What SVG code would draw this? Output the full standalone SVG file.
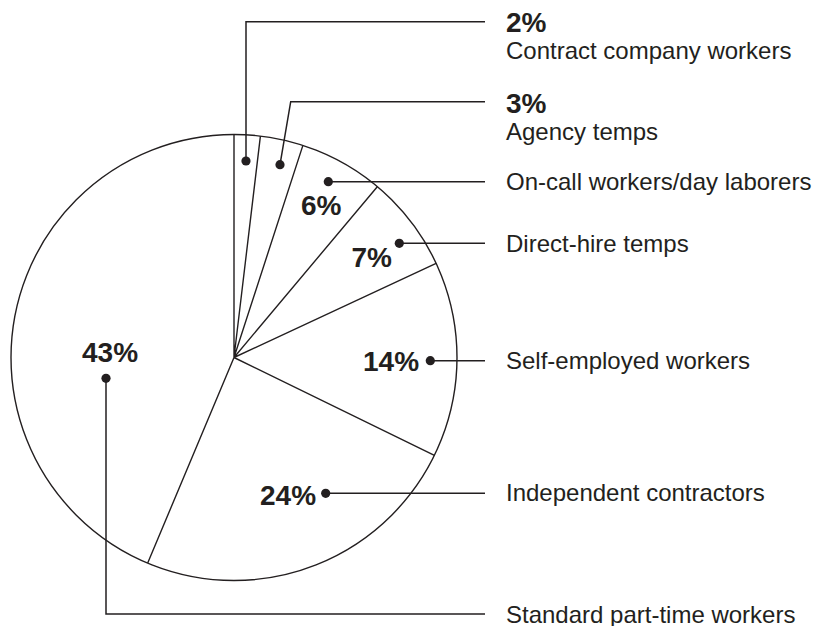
<svg xmlns="http://www.w3.org/2000/svg" width="813" height="626" viewBox="0 0 813 626">
<style>
.pie{fill:#fff;stroke:#231f20;stroke-width:1.4}
.sep{stroke:#231f20;stroke-width:1.4;fill:none}
.ld{stroke:#231f20;stroke-width:1.5;fill:none}
.dot{fill:#231f20}
.pct{font-family:"Liberation Sans",Arial,sans-serif;font-weight:bold;font-size:28px;fill:#231f20}
.lbl{font-family:"Liberation Sans",Arial,sans-serif;font-size:24px;fill:#231f20}
</style>
<rect width="813" height="626" fill="#fff"/>
<g id="pie">
<circle class="pie" cx="234" cy="357.5" r="223"/>
<path class="sep" d="M234,357.5 L234,134.5 M234,357.5 L260.4,136.1 M234,357.5 L302.9,145.4 M234,357.5 L377.3,186.7 M234,357.5 L436.1,263.3 M234,357.5 L434.4,455.3 M234,357.5 L147.7,563"/>
</g>
<g id="connectors">
<polyline class="ld" points="246,161 246,21.7 485,21.7"/>
<polyline class="ld" points="280,164.7 290.7,101.7 485,101.7"/>
<polyline class="ld" points="328.3,181.7 485,181.7"/>
<polyline class="ld" points="399.3,243.3 485,243.3"/>
<polyline class="ld" points="430.3,360.7 485,360.7"/>
<polyline class="ld" points="325.7,493.3 485,493.3"/>
<polyline class="ld" points="106,378.3 106,614 485,614"/>
<circle class="dot" cx="246" cy="161" r="4.6"/>
<circle class="dot" cx="280" cy="164.7" r="4.6"/>
<circle class="dot" cx="328.3" cy="181.7" r="4.6"/>
<circle class="dot" cx="399.3" cy="243.3" r="4.6"/>
<circle class="dot" cx="430.3" cy="360.7" r="4.6"/>
<circle class="dot" cx="325.7" cy="493.3" r="4.6"/>
<circle class="dot" cx="106" cy="378.3" r="4.6"/>
</g>
<g id="contract">
<text class="pct" x="506" y="32">2%</text>
<text class="lbl" x="506" y="58.5">Contract company workers</text>
</g>
<g id="agency">
<text class="pct" x="506" y="112.5">3%</text>
<text class="lbl" x="506" y="139.5">Agency temps</text>
</g>
<g id="oncall">
<text class="pct" x="301" y="215">6%</text>
<text class="lbl" x="506" y="190">On-call workers/day laborers</text>
</g>
<g id="directhire">
<text class="pct" x="351.5" y="266.5">7%</text>
<text class="lbl" x="506" y="251.5">Direct-hire temps</text>
</g>
<g id="selfemployed">
<text class="pct" x="363" y="371">14%</text>
<text class="lbl" x="506" y="369">Self-employed workers</text>
</g>
<g id="independent">
<text class="pct" x="260" y="505">24%</text>
<text class="lbl" x="506" y="501">Independent contractors</text>
</g>
<g id="standard">
<text class="pct" x="82" y="362">43%</text>
<text class="lbl" x="506" y="622.5">Standard part-time workers</text>
</g>
</svg>
